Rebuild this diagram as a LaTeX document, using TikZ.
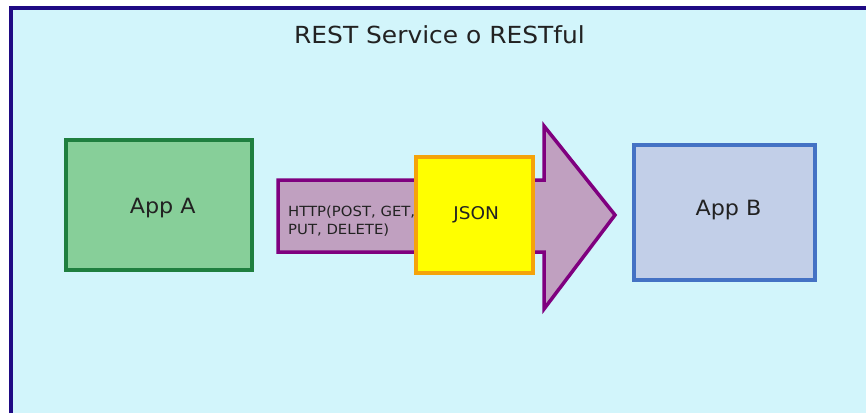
\documentclass[tikz,border=0pt]{standalone}
\usepackage{fontspec}
\setmainfont{DejaVu Sans}[FakeStretch=1.06]
\definecolor{bgc}{HTML}{D2F5FB}
\definecolor{frame}{HTML}{1F0A84}
\definecolor{greenf}{HTML}{87CF99}
\definecolor{greend}{HTML}{1F7F3F}
\definecolor{bluef}{HTML}{C2CFE8}
\definecolor{blued}{HTML}{4472C4}
\definecolor{mauve}{HTML}{C0A0C0}
\definecolor{purp}{HTML}{7F007F}
\definecolor{jsonf}{HTML}{FFFF00}
\definecolor{jsond}{HTML}{F5A30A}
\definecolor{txt}{HTML}{222222}
\newcommand{\shifttext}[3]{\hspace*{#1}\raisebox{#2}[\height][\depth]{#3}}
\begin{document}
\begin{tikzpicture}[x=1pt,y=-1pt,
  appbox/.style={draw,line width=4pt,rectangle,inner sep=0pt,text=txt,font=\fontsize{21}{25}\selectfont},
]
\useasboundingbox (0,0) rectangle (866,413);
\fill[white] (0,0) rectangle (866,413);
\fill[bgc] (11,8) rectangle (866,413);
\draw[frame,line width=4pt] (11,413) -- (11,8) -- (866,8);
\node[text=txt,font=\fontsize{23.5}{28}\selectfont] (title) at (439.5,35) {REST Service o RESTful};
\node[appbox,fill=greenf,draw=greend,minimum width=186pt,minimum height=130pt] (appa) at (159,205) {\shifttext{7.5pt}{-3pt}{App A}};
\node[appbox,fill=bluef,draw=blued,minimum width=181pt,minimum height=135pt] (appb) at (724.5,212.5) {\shifttext{8pt}{2pt}{App B}};
\draw[line width=3.5pt,draw=purp,fill=mauve,line join=miter]
  (278,180) -- (544,180) -- (544,126) -- (615,215) -- (544,309) -- (544,252) -- (278,252) -- cycle;
\node[draw=jsond,fill=jsonf,line width=4pt,rectangle,inner sep=0pt,minimum width=117pt,minimum height=116pt,text=txt,font=\fontsize{17.5}{21}\selectfont] (json) at (474.5,215) {\shifttext{3.5pt}{0.7pt}{JSON}};
\node[anchor=north west,text=txt,align=left,inner sep=0pt,font=\fontsize{14}{17.5}\selectfont] (http) at (288,206) {HTTP(POST, GET,\\PUT, DELETE)};
\end{tikzpicture}
\end{document}
